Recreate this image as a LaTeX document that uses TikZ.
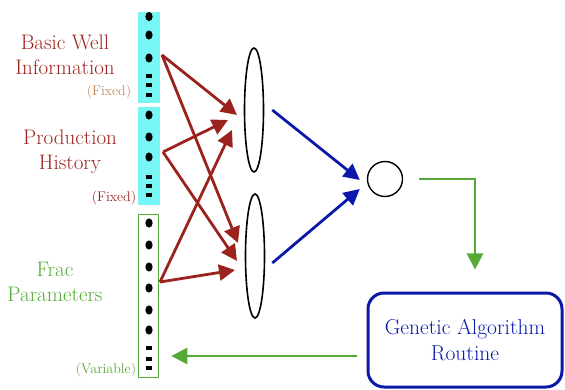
\documentclass[tikz,border=0pt]{standalone}
\usetikzlibrary{arrows.meta,shapes.geometric}
\definecolor{barcyan}{RGB}{120,245,245}
\definecolor{wellred}{RGB}{155,35,30}
\definecolor{fixedtan}{RGB}{195,135,85}
\definecolor{fracgreen}{RGB}{85,170,55}
\definecolor{gablue}{RGB}{10,25,170}
\begin{document}
\begin{tikzpicture}[x=1pt, y=-1pt,
  lbl/.style={align=center, font=\fontsize{21}{25}\selectfont, inner sep=0pt},
  note/.style={font=\fontsize{14}{16}\selectfont, inner sep=0pt},
  fixedbar/.style={fill=barcyan, minimum width=22pt, inner sep=0pt},
  varbar/.style={draw=fracgreen, line width=1.6pt, minimum width=20pt, inner sep=0pt},
  neuron/.style={ellipse, draw, line width=1.6pt, minimum width=19pt, minimum height=124pt, inner sep=0pt},
  outnode/.style={circle, draw, line width=1.4pt, minimum size=35pt, inner sep=0pt},
  gabox/.style={draw=gablue, line width=3pt, rounded corners=16pt, minimum width=194pt, minimum height=94pt, align=center, text=gablue, font=\fontsize{21.5}{26}\selectfont},
  redarrow/.style={wellred, line width=2.8pt, -{Triangle[length=16pt, width=16pt]}},
  bluearrow/.style={gablue, line width=2.8pt, -{Triangle[length=16pt, width=16pt]}},
  greenarrow/.style={fracgreen, line width=2.8pt, -{Triangle[length=16pt, width=16pt]}}
]
\useasboundingbox (0,0) rectangle (565,390);

% --- input bars ---
\node[fixedbar, minimum height=91pt] (bar1) at (149,57.5) {};
\node[fixedbar, minimum height=98pt] (bar2) at (149,156) {};
\node[varbar, minimum height=163pt] (bar3) at (148.5,296) {};

% dots and dashes
\foreach \y in {16.5,35,58,115,137,157,223,245,267,288,310,330}
  \fill (149,\y) ellipse (3.6pt and 4.6pt);
\foreach \y in {76,85,95,177,186,195,348,359,368}
  \fill (146,\y-1.6) rectangle (152,\y+1.6);

% --- labels ---
\node[lbl, text=wellred] (well) at (65,55) {Basic Well\\Information};
\node[note, text=fixedtan] (fix1) at (109,92) {(Fixed)};
\node[lbl, text=wellred] (prod) at (70,152) {Production\\History};
\node[note, text=wellred] (fix2) at (114,198) {(Fixed)};
\node[lbl, text=fracgreen] (frac) at (55,282) {Frac\\Parameters};
\node[note, text=fracgreen] (var) at (106,370) {(Variable)};

% --- network ---
\node[neuron] (up) at (254,110) {};
\node[neuron] (low) at (255,256) {};
\node[outnode] (out) at (385,179) {};
\node[gabox] (ga) at (465,340) {Genetic Algorithm\\Routine};

% red inputs
\coordinate (s1) at (162,55);
\coordinate (s2) at (163,152);
\coordinate (s3) at (160,282);
\coordinate (t1) at (237,115);
\coordinate (t2) at (228,120);
\coordinate (t3) at (232,130);
\coordinate (t4) at (238,243);
\coordinate (t5) at (237,261);
\coordinate (t6) at (235,270);
\draw[redarrow] (s1) -- (t1);
\draw[redarrow] (s1) -- (t4);
\draw[redarrow] (s2) -- (t2);
\draw[redarrow] (s2) -- (t5);
\draw[redarrow] (s3) -- (t3);
\draw[redarrow] (s3) -- (t6);

% blue to output
\draw[bluearrow] ([xshift=8pt]up.east) -- ([shift={(-7pt,-1pt)}]out.west);
\draw[bluearrow] ([shift={(7pt,-7pt)}]low.east) -- ([shift={(-7pt,-10pt)}]out.west);

% --- feedback loop ---
\draw[greenarrow, shorten <=16pt, shorten >=22pt] (out.east) -| ([xshift=10pt]ga.north);
\coordinate (gaout) at ([yshift=-16pt]ga.west);
\draw[greenarrow, shorten <=10pt, shorten >=12pt] (gaout) -- (gaout -| bar3.east);

\end{tikzpicture}
\end{document}
